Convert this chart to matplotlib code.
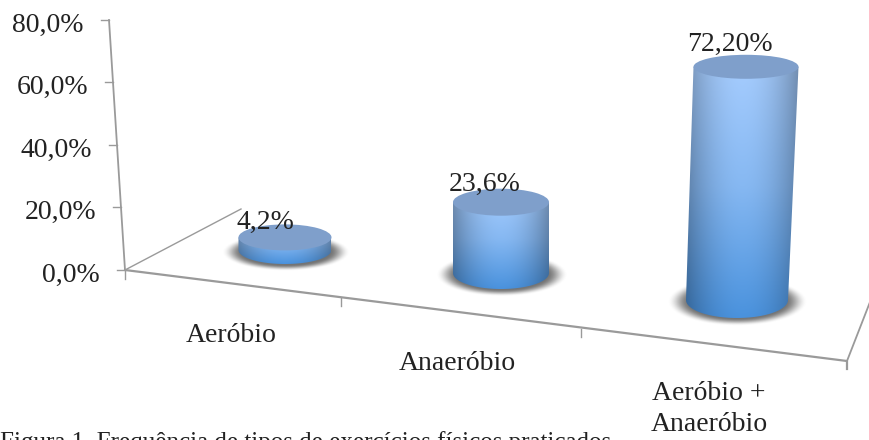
import numpy as np
import matplotlib
matplotlib.use('Agg')
import matplotlib.pyplot as plt
from matplotlib.colors import LinearSegmentedColormap
from matplotlib.patches import Ellipse, Polygon

categorias = ['Aeróbio', 'Anaeróbio', 'Aeróbio +\nAnaeróbio']
valores = [4.2, 23.6, 72.2]
rotulos = ['4,2%', '23,6%', '72,20%']
ticks_y = [0, 20, 40, 60, 80]
ticks_y_txt = ['0,0%', '20,0%', '40,0%', '60,0%', '80,0%']

plt.rcParams['font.family'] = ['Liberation Serif', 'DejaVu Serif']

W, H = 870, 440
fig = plt.figure(figsize=(W / 100, H / 100), dpi=100)
ax = fig.add_axes([0, 0, 1, 1])
ax.set_xlim(0, W)
ax.set_ylim(H, 0)
ax.axis('off')

cinza = '#9a9a9a'

# eixo vertical em perspectiva
def eixo_y(v):
    f = v / 80
    return 125 + (109 - 125) * f, 270 + (20 - 270) * f

ax.plot([eixo_y(0)[0], eixo_y(80)[0]], [eixo_y(0)[1], eixo_y(80)[1]], color=cinza, lw=1.3)
for v, txt in zip(ticks_y, ticks_y_txt):
    x, y = eixo_y(v)
    ax.plot([x - 8, x], [y, y], color=cinza, lw=1.0)
    ax.text(x - 25, y + 5, txt, ha='right', va='center', fontsize=20, color='#222222')

# chao do grafico
ax.plot([125, 847, 847], [270, 361, 369], color=cinza, lw=1.6)
ax.plot([125, 241], [270, 209], color=cinza, lw=1.0)
ax.plot([847, 870], [361, 302], color=cinza, lw=1.3)
ax.plot([125, 125], [270, 279], color=cinza, lw=1.0)
for x, y in [(341, 298), (581, 329)]:
    ax.plot([x, x], [y, y + 8], color=cinza, lw=1.0)

# geometria das colunas: centro e meia largura na base e no topo, px por ponto percentual
cx_base = [285, 501, 737]
meia_base = [46.5, 48, 51]
ry_base = [14, 16, 18]
y_base = [250, 273, 300]
cx_topo = [285, 501, 746]
meia_topo = [46.5, 48, 52.5]
ry_topo = [13, 13.5, 12]
escala = [3.0, 3.0, 3.23]

grad = LinearSegmentedColormap.from_list('grad', ['#a8ceff', '#86b8f2', '#4a92dd'])


def sombra(cx, cy, a, b):
    xs = np.linspace(-1.5, 1.5, 120)
    ys = np.linspace(-1.6, 1.6, 80)
    xx, yy = np.meshgrid(xs, ys)
    r = np.sqrt(xx ** 2 + yy ** 2)
    f = np.clip((1.38 - r) / 0.43, 0, 1)
    img = np.zeros(r.shape + (4,))
    img[..., :3] = 0.36
    img[..., 3] = 0.85 * f * f * (3 - 2 * f)
    ax.imshow(img, extent=[cx - a * 1.5, cx + a * 1.5, cy + b * 1.6, cy - b * 1.6],
              aspect='auto', zorder=2, interpolation='bilinear')


for i, v in enumerate(valores):
    y_topo = y_base[i] - v * escala[i]
    sombra(cx_base[i] + 1, y_base[i] + 2, meia_base[i], ry_base[i] * 0.98)

    # contorno do corpo: topo, lateral e meia elipse da base
    t = np.linspace(0, np.pi, 60)
    baixo = np.column_stack([cx_base[i] + meia_base[i] * np.cos(t), y_base[i] + ry_base[i] * np.sin(t)])
    corpo = np.vstack([[[cx_topo[i] - meia_topo[i], y_topo], [cx_topo[i] + meia_topo[i], y_topo]], baixo])
    contorno = Polygon(corpo, closed=True, transform=ax.transData, facecolor='none', edgecolor='none')
    ax.add_patch(contorno)

    # degrade vertical escurecido nas laterais
    topo_img = y_topo - ry_topo[i]
    base_img = y_base[i] + ry_base[i]
    yy, xx = np.mgrid[0:1:200j, -1:1:120j]
    cor = grad(yy)[..., :3]
    lado = 1 - 0.3 * np.abs(xx) ** 2
    cor = cor * lado[..., None]
    x0 = min(cx_base[i] - meia_base[i], cx_topo[i] - meia_topo[i])
    x1 = max(cx_base[i] + meia_base[i], cx_topo[i] + meia_topo[i])
    im = ax.imshow(cor, extent=[x0, x1, base_img, topo_img], aspect='auto', zorder=3)
    im.set_clip_path(contorno)

    ax.add_patch(Ellipse((cx_topo[i], y_topo), 2 * meia_topo[i], 2 * ry_topo[i],
                         facecolor='#7f9fcb', edgecolor='none', zorder=4))

ax.set_xlim(0, W)
ax.set_ylim(H, 0)

# rotulos de valor e de categoria
pos_rotulos = [(265, 222), (485, 184), (730, 44)]
for (x, y), txt in zip(pos_rotulos, rotulos):
    ax.text(x, y, txt, ha='center', va='center', fontsize=20, color='#222222', zorder=5)

pos_cat = [(231, 335), (457, 364), (709, 409)]
for (x, y), txt in zip(pos_cat, categorias):
    ax.text(x, y, txt, ha='center', va='center', fontsize=20, color='#222222', linespacing=1.35)

ax.text(0, 431, 'Figura 1. Frequência de tipos de exercícios físicos praticados', ha='left', va='top',
        fontsize=18, color='#222222')

fig.savefig('out.png', dpi=100)
